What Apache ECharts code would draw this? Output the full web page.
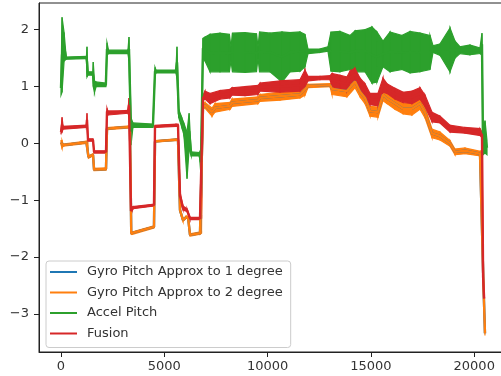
<!DOCTYPE html>
<html>
<head>
  <meta charset="UTF-8" />
  <title></title>
  <style type="text/css">
    * { margin: 0; padding: 0; }
    #main { width: 501px; height: 376px; background: #fff; }
  </style>
</head>
<body>
  <div id="main"></div>
<script src="https://cdn.jsdelivr.net/npm/echarts@6/dist/echarts.min.js"></script>
<script type="text/javascript">
  const seriesNames = ['Gyro Pitch Approx to 1 degree', 'Gyro Pitch Approx to 2 degree', 'Accel Pitch', 'Fusion']
  const seriesColors = ['#1f77b4', '#ff7f0e', '#2ca02c', '#d62728']
  const xTicks = [0, 5000, 10000, 15000, 20000]
  const yTicks = [-3, -2, -1, 0, 1, 2]

  // traces are very noisy, so each row is [sample, low edge, high edge]
  const gyro2Band = [
    [0, -0.02, 0.05], [50, -0.08, 0.05], [100, -0.05, -0.01], [1230, 0.0, 0.04], [1290, -0.02, 0.03],
    [1330, -0.26, -0.22], [1549, -0.22, -0.18], [1600, -0.48, -0.44], [2178, -0.47, -0.43],
    [2226, 0.24, 0.28], [3340, 0.27, 0.31], [3400, -1.6, -1.56], [3450, -1.6, -1.56], [4500, -1.49, -1.45],
    [4550, 0.02, 0.05], [5566, 0.05, 0.08], [5663, 0.05, 0.08], [5760, -1.2, -1.15], [5905, -1.37, -1.33],
    [6050, -1.32, -1.28], [6150, -1.32, -1.28], [6244, -1.63, -1.59], [6728, -1.6, -1.56], [6800, -1.58, -1.55],
    [6873, 0.62, 0.68], [6970, 0.62, 0.72], [7309, 0.48, 0.62], [7454, 0.55, 0.7], [8180, 0.6, 0.72],
    [8276, 0.65, 0.78], [9535, 0.7, 0.82], [9632, 0.74, 0.86], [10600, 0.76, 0.9], [11568, 0.8, 0.92],
    [11810, 0.85, 1.05], [11955, 0.98, 1.04], [13020, 1.0, 1.05], [13116, 0.86, 1.06], [13842, 0.82, 1.02],
    [14230, 0.98, 1.2], [14472, 0.82, 1.0], [14714, 0.7, 0.9], [14956, 0.48, 0.65], [15342, 0.46, 0.64],
    [15585, 0.75, 0.97], [15779, 0.7, 0.88], [16166, 0.6, 0.8], [16553, 0.52, 0.7], [16988, 0.5, 0.72],
    [17376, 0.6, 0.8], [17618, 0.45, 0.64], [17956, 0.1, 0.25], [18344, 0.06, 0.2], [18828, -0.05, 0.05],
    [19070, -0.2, -0.1], [19554, -0.18, -0.08], [20280, -0.22, -0.14], [20376, -0.2, -0.12],
    [20430, -2.3, -2.2], [20470, -2.8, -2.7], [20520, -3.38, -3.3]
  ]
  const gyro1Band = gyro2Band // sits exactly under the orange trace

  const accelBand = [
    [0, 0.85, 1.1], [50, 0.9, 2.22], [150, 1.45, 1.95], [250, 1.48, 1.52], [1230, 1.49, 1.53],
    [1258, 1.17, 1.70], [1300, 1.2, 1.26], [1540, 1.2, 1.26], [1560, 1.0, 1.43], [1620, 0.9, 1.1],
    [1700, 1.0, 1.08], [2170, 1.0, 1.06], [2226, 1.55, 1.77], [2300, 1.58, 1.64], [3240, 1.58, 1.64],
    [3291, 1.45, 1.87], [3388, -0.03, 0.45], [3480, 0.28, 0.36], [4450, 0.28, 0.34], [4550, 1.2, 1.34],
    [4600, 1.24, 1.29], [5560, 1.24, 1.29], [5614, 1.15, 1.70], [5700, 0.45, 0.6], [5850, 0.28, 0.45],
    [5950, 0.15, 0.35], [6100, -0.62, 0.2], [6200, -0.1, 0.53], [6300, -0.22, -0.15], [6700, -0.22, -0.16],
    [6776, -0.56, -0.1], [6870, 1.5, 1.85], [6970, 1.45, 1.87], [7212, 1.26, 1.92], [7696, 1.26, 1.94],
    [8150, 1.26, 1.92], [8228, 1.45, 1.70], [8300, 1.26, 1.94], [8906, 1.25, 1.95], [9460, 1.26, 1.93],
    [9535, 1.5, 1.7], [9610, 1.26, 1.96], [10116, 1.26, 1.94], [10696, 1.08, 1.96], [11084, 1.26, 1.95],
    [11568, 1.27, 1.96], [11810, 1.35, 1.92], [11955, 1.58, 1.66], [12536, 1.60, 1.66], [12923, 1.62, 1.70],
    [13068, 1.27, 1.96], [13504, 1.26, 1.97], [13988, 1.3, 1.9], [14230, 1.26, 1.98], [14714, 1.26, 2.0],
    [15052, 1.06, 2.05], [15294, 1.08, 1.96], [15585, 1.35, 1.8], [15924, 1.26, 1.96], [16504, 1.3, 1.9],
    [16892, 1.24, 1.97], [17376, 1.26, 1.94], [17860, 1.3, 1.9], [18005, 1.6, 1.72], [18344, 1.55, 1.75],
    [18828, 1.26, 2.03], [19070, 1.5, 1.8], [19312, 1.58, 1.7], [19796, 1.56, 1.73], [20280, 1.58, 1.68],
    [20376, 1.55, 1.94], [20425, -0.2, 0.2], [20522, -0.17, 0.4], [20618, -0.2, 0.05]
  ]

  const fusionBand = [
    [0, 0.18, 0.22], [50, 0.2, 0.46], [100, 0.25, 0.3], [1230, 0.28, 0.32], [1258, 0.3, 0.53],
    [1307, 0.04, 0.08], [1549, 0.04, 0.08], [1600, -0.17, -0.13], [2178, -0.17, -0.13], [2226, 0.5, 0.62],
    [2275, 0.5, 0.56], [3243, 0.53, 0.58], [3291, 0.55, 0.80], [3388, -1.26, -1.12], [3485, -1.15, -1.11],
    [4500, -1.10, -1.07], [4550, 0.28, 0.32], [5566, 0.3, 0.34], [5663, 0.3, 0.34], [5760, -1.0, -0.85],
    [5905, -1.17, -1.1], [6100, -1.2, -1.15], [6244, -1.34, -1.3], [6728, -1.34, -1.3], [6800, -1.32, -1.28],
    [6873, 0.75, 0.85], [6970, 0.78, 0.92], [7212, 0.7, 0.88], [7696, 0.78, 0.93], [8180, 0.8, 0.95],
    [8276, 0.85, 0.98], [8906, 0.84, 1.0], [9535, 0.86, 1.02], [9632, 0.92, 1.06], [10600, 0.9, 1.1],
    [11568, 0.92, 1.12], [11810, 1.0, 1.29], [11955, 1.1, 1.18], [12536, 1.12, 1.18], [13020, 1.12, 1.19],
    [13116, 1.0, 1.23], [13504, 0.95, 1.2], [13842, 0.92, 1.17], [13988, 1.05, 1.27], [14230, 1.12, 1.32],
    [14472, 0.95, 1.15], [14714, 0.85, 1.05], [14956, 0.68, 0.88], [15342, 0.66, 0.88], [15585, 0.9, 1.15],
    [15779, 0.88, 1.05], [16166, 0.78, 0.97], [16553, 0.72, 0.9], [16988, 0.7, 0.92], [17376, 0.78, 0.98],
    [17618, 0.65, 0.85], [17956, 0.38, 0.55], [18344, 0.36, 0.48], [18828, 0.2, 0.32], [19554, 0.18, 0.28],
    [20280, 0.14, 0.26], [20376, 0.1, 0.2], [20430, -2.4, -2.3], [20480, -2.76, -2.7]
  ]

  const myChart = echarts.init(document.getElementById('main'))

  function midLine(rows) {
    return rows.map(r => [r[0], (r[1] + r[2]) / 2])
  }

  // band polygon between row i and row i+1
  function bandRender(rows, color) {
    return function (params, api) {
      const i = params.dataIndex
      if (i >= rows.length - 1) return null
      const a = rows[i]
      const b = rows[i + 1]
      return {
        type: 'polygon',
        shape: {
          points: [api.coord([a[0], a[1]]), api.coord([b[0], b[1]]), api.coord([b[0], b[2]]), api.coord([a[0], a[2]])]
        },
        style: { fill: color, stroke: color, lineWidth: 1.2 }
      }
    }
  }

  function traceSeries(name, rows, color) {
    return [{
      type: 'custom',
      name: name + ' band',
      data: rows,
      encode: { x: 0, y: [1, 2] },
      renderItem: bandRender(rows, color),
      silent: true
    }, {
      type: 'line',
      name: name,
      data: midLine(rows),
      symbol: 'none',
      lineStyle: { color: color, width: 2.4 },
      itemStyle: { color: color },
      silent: true
    }]
  }

  const tickFont = { fontFamily: 'DejaVu Sans', fontSize: 13, color: '#333' }

  const option = {
    animation: false,
    backgroundColor: '#fff',
    grid: {
      left: 39, top: 3, right: -7, bottom: 24,
      outerBoundsMode: 'none',
      show: true, borderColor: '#222', borderWidth: 1, backgroundColor: 'transparent'
    },
    legend: {
      data: seriesNames,
      orient: 'vertical',
      left: 46, top: 261,
      padding: [4, 8, 7, 4],
      // plain line sample, no marker
      icon: 'path://M0,0M0,6H27V8H0ZM27,14',
      itemWidth: 27, itemHeight: 14, itemGap: 6.5,
      backgroundColor: 'rgba(255,255,255,0.8)',
      borderColor: '#ccc', borderWidth: 1, borderRadius: 3,
      textStyle: { fontFamily: 'DejaVu Sans', fontSize: 13, color: '#333', padding: [0, 0, 0, 5], lineHeight: 14 }
    },
    xAxis: {
      type: 'value',
      min: -1065, max: 21635,
      splitLine: { show: false },
      axisLine: { onZero: false, lineStyle: { color: '#222' } },
      axisTick: { length: 5, lineStyle: { color: '#222' }, customValues: xTicks },
      axisLabel: Object.assign({ margin: 8, customValues: xTicks, formatter: v => String(v) }, tickFont)
    },
    yAxis: {
      type: 'value',
      min: -3.67, max: 2.47,
      splitLine: { show: false },
      axisLine: { show: true, onZero: false, lineStyle: { color: '#222' } },
      axisTick: { show: true, length: 5, lineStyle: { color: '#222' }, customValues: yTicks },
      axisLabel: Object.assign({
        margin: 10, customValues: yTicks,
        formatter: v => (v < 0 ? '\u2212' + Math.abs(v) : String(v))
      }, tickFont)
    },
    series: [{
      type: 'line',
      name: seriesNames[0],
      data: midLine(gyro1Band),
      symbol: 'none',
      lineStyle: { color: seriesColors[0], width: 2.4 },
      itemStyle: { color: seriesColors[0] },
      silent: true
    }]
      .concat(traceSeries(seriesNames[1], gyro2Band, seriesColors[1]))
      .concat(traceSeries(seriesNames[2], accelBand, seriesColors[2]))
      .concat(traceSeries(seriesNames[3], fusionBand, seriesColors[3]))
  }

  myChart.setOption(option)
</script>
</body>
</html>
